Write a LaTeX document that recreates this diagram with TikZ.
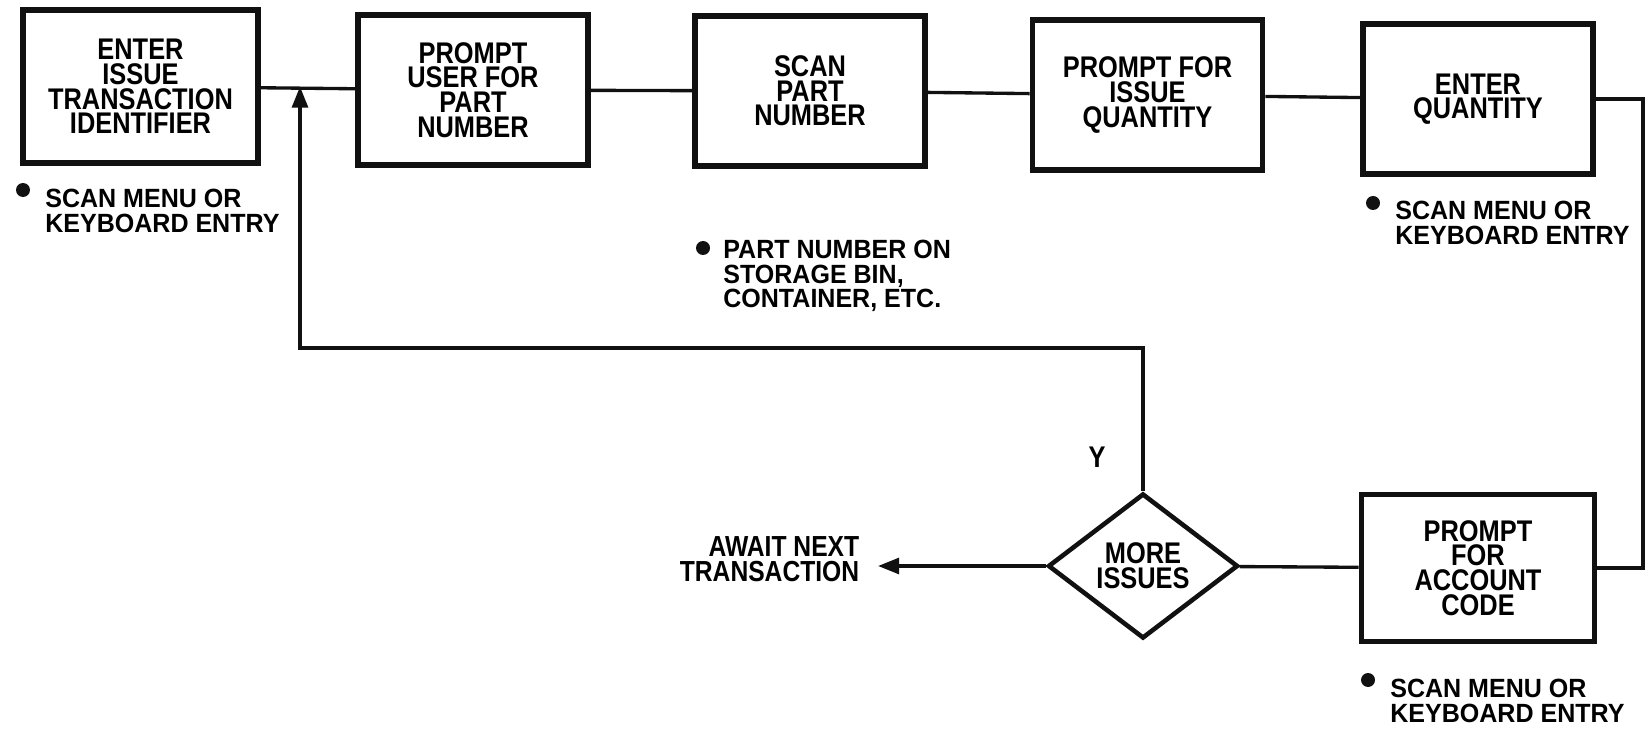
\documentclass[tikz,border=0pt]{standalone}
\usepackage{fontspec}
\setmainfont{Liberation Sans}[FakeStretch=0.95]
\newfontfamily\boxfont{Liberation Sans}[FakeStretch=0.85]
\usetikzlibrary{shapes.geometric, arrows.meta, positioning, calc}
\usepackage{xcolor}
\definecolor{InkBlack}{HTML}{111111}
\definecolor{PaperWhite}{HTML}{ffffff}
\tikzset{
    % Box styles - all sharp corners
    stepbox/.style={
        rectangle,
        draw=InkBlack,
        fill=PaperWhite,
        line width=3.2pt,
        minimum width=4.6cm,
        minimum height=3cm,
        inner sep=2pt,
        align=center,
        font=\boxfont\fontsize{17}{14}\selectfont\bfseries
    },
    decision/.style={
        diamond,
        draw=InkBlack,
        fill=PaperWhite,
        line width=2.6pt,
        minimum width=3.8cm,
        minimum height=2.9cm,
        inner sep=0pt,
        align=center,
        aspect=1.3,
        font=\boxfont\fontsize{17}{14}\selectfont\bfseries
    },
    note/.style={
        anchor=west,
        inner sep=0pt,
        align=left,
        font=\fontsize{15}{14}\selectfont\bfseries
    },
    dot/.style={
        circle,
        fill=InkBlack,
        inner sep=0pt,
        minimum size=0.28cm
    },
    % Connector styles - straight lines only
    link/.style={
        line width=1.9pt,
        draw=InkBlack
    },
    arrow/.style={
        ->,
        >={Triangle[length=12pt, width=9pt]},
        line width=1.9pt,
        draw=InkBlack
    }
}
\begin{document}
\begin{tikzpicture}[x=0.02cm, y=-0.02cm]
    \useasboundingbox (0,0) rectangle (1647,729);

    % Top row
    \node[stepbox, minimum width=4.7cm, minimum height=3.06cm] (enter) at (140.5,86.5) {ENTER\\ISSUE\\TRANSACTION\\IDENTIFIER};
    \node[stepbox] (prompt) at (473,90) {PROMPT\\USER FOR\\PART\\NUMBER};
    \node[stepbox] (scanpn) at (810,91) {SCAN\\PART\\NUMBER};
    \node[stepbox] (askqty) at (1147.5,95) {PROMPT FOR\\ISSUE\\QUANTITY};
    \node[stepbox] (qty) at (1478,99) {ENTER\\QUANTITY};

    % Bottom row
    \node[stepbox, minimum width=4.66cm, minimum height=2.94cm] (acct) at (1478,568) {PROMPT\\FOR\\ACCOUNT\\CODE};
    \node[decision] (more) at (1143,566) {MORE\\ISSUES};
    \node[stepbox, draw=none, minimum width=0pt, minimum height=0pt, inner xsep=0.32cm, align=right, anchor=east, font=\boxfont\fontsize{16.5}{14}\selectfont\bfseries] (await) at (878,559) {AWAIT NEXT\\TRANSACTION};
    \node[font=\boxfont\fontsize{17}{14}\selectfont\bfseries] (yes) at (1097,457) {Y};

    % Notes
    \node[dot] (d1) at (23,190) {};
    \node[note] (n1) at (45,211) {SCAN MENU OR\\KEYBOARD ENTRY};
    \node[dot] (d3) at (703,248) {};
    \node[note] (n3) at (723,276) {PART NUMBER ON\\STORAGE BIN,\\CONTAINER, ETC.};
    \node[dot] (d5) at (1373,203) {};
    \node[note] (n5) at (1395,223) {SCAN MENU OR\\KEYBOARD ENTRY};
    \node[dot] (d6) at (1368,680) {};
    \node[note] (n6) at (1390,701) {SCAN MENU OR\\KEYBOARD ENTRY};

    % Flow
    \draw[link] (enter) -- (prompt);
    \draw[link] (prompt) -- (scanpn);
    \draw[link] (scanpn) -- (askqty);
    \draw[link] (askqty) -- (qty);
    \coordinate (rside) at (1643,330);
    \draw[link] (qty.east) -- (qty.east -| rside) -- (acct.east -| rside) -- (acct.east);
    \draw[link] (acct) -- (more);
    \draw[arrow] (more.west) -- (more.west -| await.east);

    % Loop back
    \coordinate (back) at (300,348);
    \draw[arrow] (more.north) |- (back) -- (back |- enter.east);
\end{tikzpicture}
\end{document}
